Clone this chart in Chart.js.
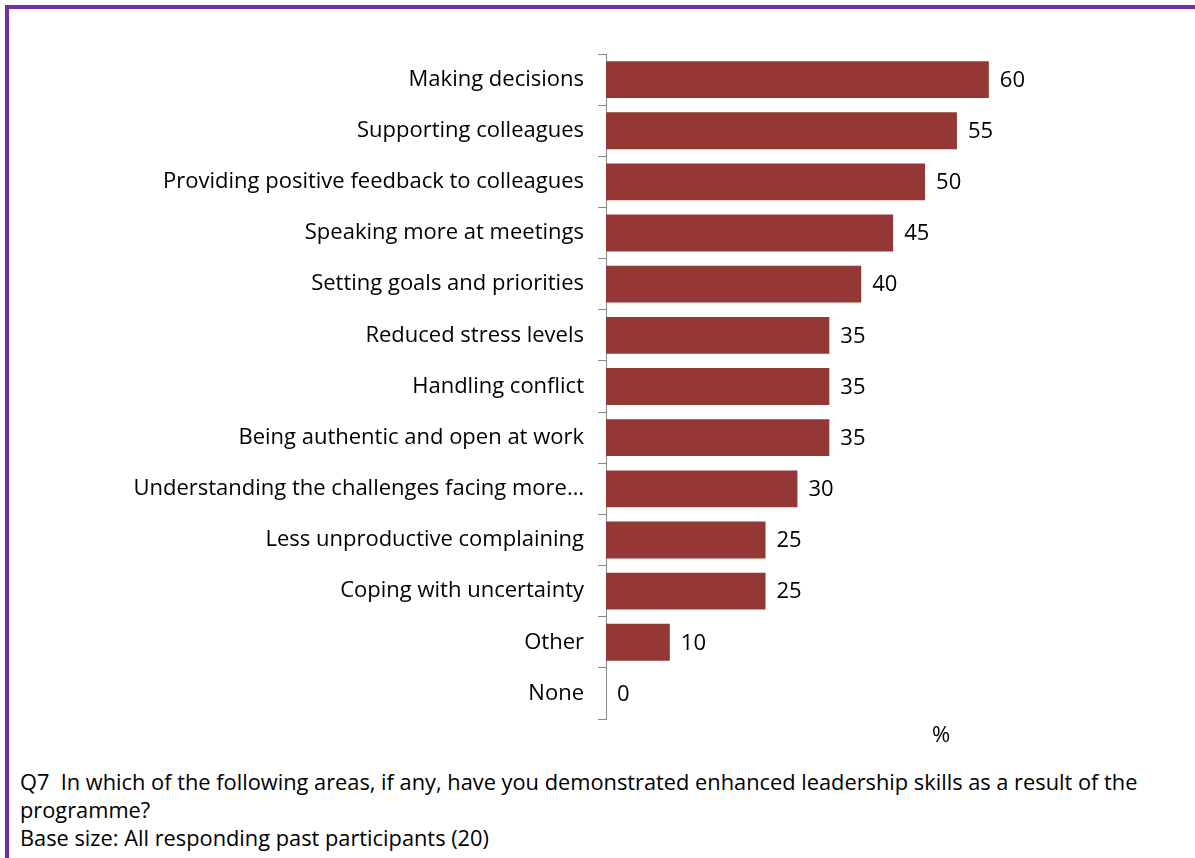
<!DOCTYPE html>
<html>
<head>
<meta charset="utf-8">
<script src="https://cdn.jsdelivr.net/npm/chart.js@4"></script>
<style>
  html, body { margin: 0; padding: 0; background: #fff; overflow: hidden; width: 1195px; height: 858px; }
  #frame { position: absolute; left: 5px; top: 5px; width: 1400px; height: 900px;
           border-top: 4px solid #7030A0; border-left: 4px solid #7030A0; }
  #chartBox { position: absolute; left: 0; top: 0; width: 1290px; height: 749px; }
  #caption { position: absolute; left: 20px; top: 768px; font-family: "Open Sans", sans-serif;
             font-size: 21.8px; line-height: 28px; color: #000; white-space: nowrap; }
</style>
</head>
<body>
<div id="frame"></div>
<div id="chartBox"><canvas id="chart"></canvas></div>
<div id="caption">Q7&nbsp; In which of the following areas, if any, have you demonstrated enhanced leadership skills as a result of the<br>programme?<br>Base size: All responding past participants (20)</div>
<script>
// categories, top to bottom
const categories = [
  "Making decisions",
  "Supporting colleagues",
  "Providing positive feedback to colleagues",
  "Speaking more at meetings",
  "Setting goals and priorities",
  "Reduced stress levels",
  "Handling conflict",
  "Being authentic and open at work",
  "Understanding the challenges facing more\u2026",
  "Less unproductive complaining",
  "Coping with uncertainty",
  "Other",
  "None"
];
const percentages = [60, 55, 50, 45, 40, 35, 35, 35, 30, 25, 25, 10, 0];
const axisTitle = "%";

const labelFont = { family: "Open Sans", size: 22 };

// draws the value next to the end of each bar
const valueLabels = {
  id: "valueLabels",
  afterDatasetsDraw(chart) {
    const ctx = chart.ctx;
    const meta = chart.getDatasetMeta(0);
    ctx.save();
    ctx.font = labelFont.size + "px '" + labelFont.family + "'";
    ctx.fillStyle = "#000";
    ctx.textBaseline = "middle";
    ctx.textAlign = "left";
    meta.data.forEach((bar, i) => {
      ctx.fillText(String(percentages[i]), bar.x + 11, bar.y + 1);
    });
    ctx.restore();
  }
};

const ctx = document.getElementById("chart").getContext("2d");
new Chart(ctx, {
  type: "bar",
  data: {
    labels: categories,
    datasets: [{
      data: percentages,
      backgroundColor: "#953735",
      barPercentage: 0.72,
      categoryPercentage: 1
    }]
  },
  options: {
    indexAxis: "y",
    responsive: true,
    maintainAspectRatio: false,
    animation: false,
    layout: { padding: { top: 54, left: 0, right: 14, bottom: 0 } },
    plugins: { legend: { display: false }, tooltip: { enabled: false } },
    scales: {
      y: {
        afterFit: (scale) => { scale.width = 606; },
        grid: { drawOnChartArea: false, tickLength: 8, color: "#868686" },
        border: { color: "#868686" },
        ticks: { color: "#000", font: labelFont, padding: 14 }
      },
      x: {
        min: 0,
        max: 105,
        afterFit: (scale) => { scale.height = 30; },
        grid: { display: false },
        border: { display: false },
        ticks: { display: false },
        title: { display: true, text: axisTitle, color: "#000",
                 font: labelFont, padding: { top: 0, bottom: 0 } }
      }
    }
  },
  plugins: [valueLabels]
});
</script>
</body>
</html>
